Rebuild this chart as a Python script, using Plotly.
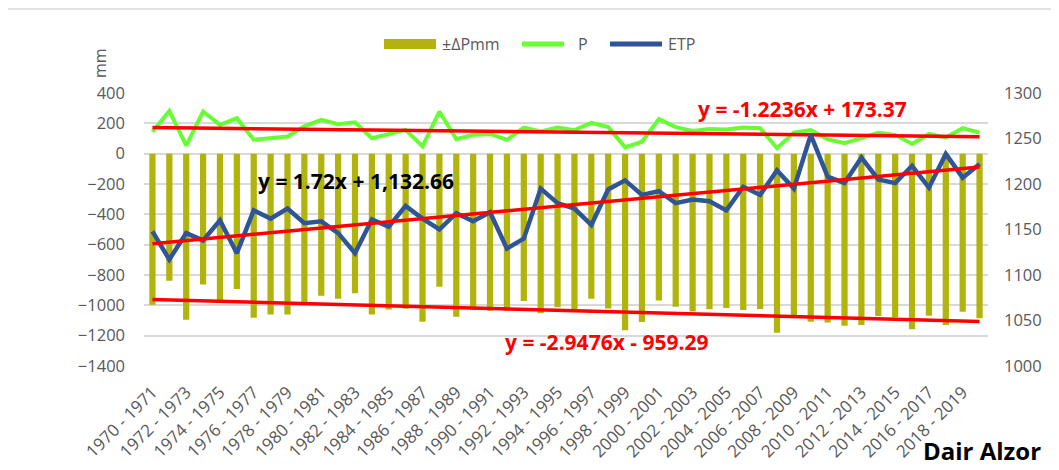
import plotly.graph_objects as go

# ---------------- data ----------------
seasons = [f"{y} - {y + 1}" for y in range(1970, 2020)]

delta_p = [-996, -838, -1095, -862, -968, -893, -1082, -1061, -1061, -978,
           -937, -956, -920, -1061, -1028, -1022, -1108, -877, -1076, -1030,
           -1035, -1035, -972, -1053, -1012, -1024, -956, -1021, -1164, -1110,
           -968, -1010, -1040, -1025, -1018, -1030, -1024, -1181, -1065, -1108,
           -1113, -1134, -1129, -1070, -1079, -1157, -1068, -1129, -1043, -1085]

p_mm = [145, 282, 53, 278, 190, 234, 92, 102, 113, 180,
        223, 194, 207, 102, 128, 157, 48, 278, 95, 124,
        130, 91, 172, 146, 172, 155, 203, 175, 42, 79,
        228, 175, 150, 163, 159, 172, 168, 36, 139, 155,
        95, 69, 102, 137, 124, 64, 130, 106, 168, 139]

etp = [1148, 1117, 1146, 1138, 1160, 1124, 1171, 1162, 1173, 1157,
       1159, 1146, 1124, 1161, 1153, 1176, 1162, 1150, 1168, 1159,
       1169, 1129, 1140, 1195, 1179, 1173, 1155, 1194, 1204, 1188,
       1192, 1179, 1183, 1181, 1171, 1197, 1188, 1215, 1195, 1254,
       1208, 1201, 1229, 1205, 1201, 1220, 1196, 1233, 1207, 1222]

# trend-line coefficients as printed on the chart (slope, intercept)
trend_p = (-1.2236, 173.37)
trend_etp = (1.72, 1132.66)
trend_dp = (-2.9476, -959.29)

left_ticks = list(range(-1400, 401, 200))
right_ticks = list(range(1000, 1301, 50))
label_ticks = seasons[::2]
legend_names = ["±ΔPmm", "P", "ETP"]

# ---------------- styling ----------------
OLIVE = "#B3B30D"
GREEN = "#66FF33"
BLUE = "#2F5597"
RED = "#FF0000"
GRAY_TXT = "#595959"
GRID = "#D9D9D9"
FONT = "Open Sans"

W, H = 1059, 470
PAGE_OFF = 8                      # browser body margin
X0, X1, Y0, Y1 = 144, 988, 93, 366  # plot area in page pixels
PW, PH = X1 - X0, Y1 - Y0
L, T = X0 - PAGE_OFF, Y0 - PAGE_OFF
R, B = W - L - PW, H - T - PH


def px(x):
    return (x - X0) / PW


def py(y):
    return (Y1 - y) / PH


def trend(coef):
    a, b = coef
    return [a * (i + 1) + b for i in range(len(seasons))]


fig = go.Figure()

fig.add_trace(go.Bar(x=seasons, y=delta_p, name=legend_names[0], marker_color=OLIVE,
                     marker_line_width=0, yaxis="y"))
fig.add_trace(go.Scatter(x=seasons, y=p_mm, name=legend_names[1], mode="lines",
                         line=dict(color=GREEN, width=4), yaxis="y"))
fig.add_trace(go.Scatter(x=seasons, y=trend(trend_p), mode="lines",
                         line=dict(color=RED, width=3.5), yaxis="y"))
fig.add_trace(go.Scatter(x=seasons, y=trend(trend_dp), mode="lines",
                         line=dict(color=RED, width=3.5), yaxis="y"))
fig.add_trace(go.Scatter(x=seasons, y=etp, name=legend_names[2], mode="lines",
                         line=dict(color=BLUE, width=4.5), yaxis="y2"))
fig.add_trace(go.Scatter(x=seasons, y=trend(trend_etp), mode="lines",
                         line=dict(color=RED, width=3.5), yaxis="y2"))

# hand-built legend (wide swatches like the original)
legend_y = py(44)
shapes = [
    dict(type="rect", xref="paper", yref="paper",
         x0=px(7), x1=px(W + 5), y0=py(H + 5), y1=py(9),
         line=dict(color="#D9D9D9", width=1.5), fillcolor="rgba(0,0,0,0)", layer="below"),
    dict(type="rect", xref="paper", yref="paper",
         x0=px(384), x1=px(436), y0=py(49), y1=py(39),
         line=dict(width=0), fillcolor=OLIVE),
    dict(type="line", xref="paper", yref="paper",
         x0=px(522), x1=px(564), y0=legend_y, y1=legend_y,
         line=dict(color=GREEN, width=5)),
    dict(type="line", xref="paper", yref="paper",
         x0=px(610), x1=px(662), y0=legend_y, y1=legend_y,
         line=dict(color=BLUE, width=5)),
]

legend_ann = [
    dict(text=legend_names[0], x=px(440)),
    dict(text=legend_names[1], x=px(576)),
    dict(text=legend_names[2], x=px(666)),
]
annotations = [dict(a, xref="paper", yref="paper", y=legend_y, xanchor="left",
                    yanchor="middle", showarrow=False,
                    font=dict(size=16, color=GRAY_TXT)) for a in legend_ann]

annotations += [
    dict(text="mm", xref="paper", yref="paper", x=px(87), y=py(46),
         showarrow=False, textangle=-90, font=dict(size=16, color=GRAY_TXT)),
    dict(text="<b>y = 1.72x + 1,132.66</b>", xref="paper", yref="paper",
         x=px(256), y=py(181), xanchor="left", yanchor="middle", showarrow=False,
         font=dict(size=21, color="black")),
    dict(text="<b>y = -1.2236x + 173.37</b>", xref="paper", yref="paper",
         x=px(696), y=py(109), xanchor="left", yanchor="middle", showarrow=False,
         font=dict(size=21, color=RED)),
    dict(text="<b>y = -2.9476x - 959.29</b>", xref="paper", yref="paper",
         x=px(503), y=py(342), xanchor="left", yanchor="middle", showarrow=False,
         font=dict(size=21, color=RED)),
    dict(text="<b>Dair Alzor</b>", xref="paper", yref="paper",
         x=px(1043), y=py(450), xanchor="right", yanchor="middle", showarrow=False,
         font=dict(size=24, color="black")),
]

fig.update_layout(
    width=W, height=H,
    margin=dict(l=L, r=R, t=T, b=B, autoexpand=False),
    paper_bgcolor="white", plot_bgcolor="white",
    font=dict(family=FONT, size=16, color=GRAY_TXT),
    bargap=0.63,
    showlegend=False,
    xaxis=dict(type="category", categoryorder="array", categoryarray=seasons,
               tickmode="array", tickvals=label_ticks, ticktext=label_ticks,
               tickangle=-45, tickfont=dict(size=17, color=GRAY_TXT),
               showgrid=False, showline=False, ticks="", zeroline=False,
               ticklabelstandoff=12, automargin=False),
    yaxis=dict(range=[-1400, 400], tickmode="array", tickvals=left_ticks,
               showgrid=True, gridcolor=GRID, gridwidth=1.5,
               zeroline=False, showline=False, ticks="", automargin=False,
               ticklabelstandoff=18, tickfont=dict(size=16.5, color=GRAY_TXT)),
    yaxis2=dict(range=[1000, 1300], tickmode="array", tickvals=right_ticks,
                overlaying="y", side="right", showgrid=False, zeroline=False,
                showline=False, ticks="", ticklabelstandoff=15, automargin=False,
                tickfont=dict(size=16.5, color=GRAY_TXT)),
    shapes=shapes,
    annotations=annotations,
)

fig.write_html("out.html")
